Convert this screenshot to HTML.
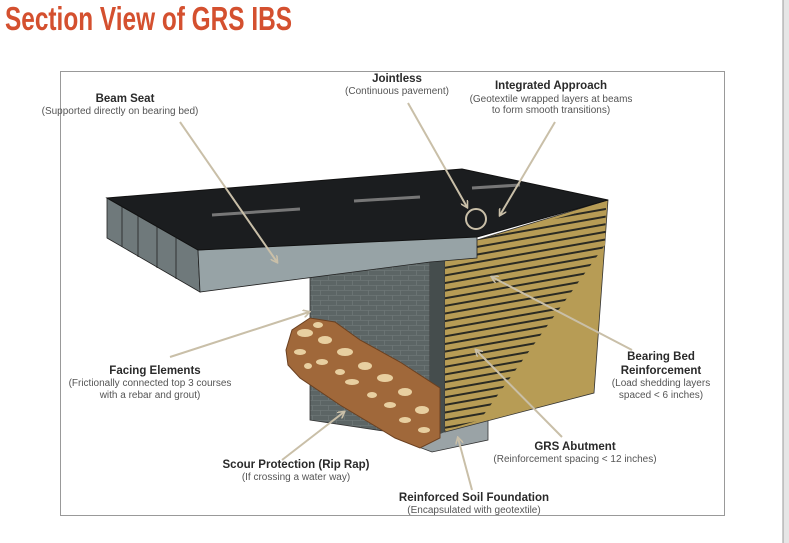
<!DOCTYPE html>
<html><head><meta charset="utf-8"><style>
html,body{margin:0;padding:0;background:#fff;width:789px;height:543px;overflow:hidden}
svg{display:block}
.b{font:bold 11.5px "Liberation Sans",sans-serif;fill:#2a2a2a}
.s{font:10px "Liberation Sans",sans-serif;fill:#555}
</style></head><body>
<svg width="789" height="543" viewBox="0 0 789 543">
<defs>
<pattern id="st" width="40" height="7.5" patternUnits="userSpaceOnUse" patternTransform="rotate(-10)">
<rect width="40" height="7.5" fill="#b79c55"/><rect y="2.5" width="40" height="2" fill="#2a2a22"/>
</pattern>
<pattern id="br" width="16" height="10" patternUnits="userSpaceOnUse">
<rect width="16" height="10" fill="#5c6565"/><path d="M0,0.5H16M0,5.5H16M0.5,0V5M8.5,5V10" stroke="#6d7676" stroke-width="0.8"/>
</pattern>
<clipPath id="cp"><polygon points="445,258 477,240 606,205 605,245 480,420 445,430"/></clipPath>
<marker id="ar" markerWidth="8" markerHeight="8" refX="6" refY="4" orient="auto" markerUnits="userSpaceOnUse"><path d="M0,0 L7,4 L0,8" fill="none" stroke="#c9bfa8" stroke-width="1.6"/></marker>
</defs>
<text x="5" y="30" font-family="Liberation Sans,sans-serif" font-weight="bold" font-size="33" fill="#d4502f" textLength="287" lengthAdjust="spacingAndGlyphs">Section View of GRS IBS</text>
<rect x="783" y="0" width="6" height="543" fill="#e6e6e6"/><line x1="783" y1="0" x2="783" y2="543" stroke="#999"/>
<rect x="60.5" y="71.5" width="664" height="444" fill="#fff" stroke="#999"/>
<polygon points="400,428 488,420 488,440 432,452 400,440" fill="#9aa3a6" stroke="#333" stroke-width="0.8"/>
<polygon points="310,275 430,262 430,438 310,420" fill="url(#br)" stroke="#333" stroke-width="0.8"/>
<polygon points="430,262 445,260 445,432 430,438" fill="#454d4d"/>
<polygon points="445,258 477,240 608,200 594,393 445,432" fill="#b79c55" stroke="#333" stroke-width="0.8"/>
<rect x="440" y="200" width="170" height="235" fill="url(#st)" clip-path="url(#cp)"/>
<!-- rip rap -->
<polygon points="286,350 292,330 310,318 335,322 360,340 400,362 440,388 440,438 420,448 395,438 340,405 300,378 288,365" fill="#a0683a" stroke="#6b4020" stroke-width="1"/>
<g fill="#e8cfa0"><ellipse cx="305" cy="333" rx="8" ry="4"/><ellipse cx="325" cy="340" rx="7" ry="4"/><ellipse cx="300" cy="352" rx="6" ry="3"/><ellipse cx="345" cy="352" rx="8" ry="4"/><ellipse cx="365" cy="366" rx="7" ry="4"/><ellipse cx="322" cy="362" rx="6" ry="3"/><ellipse cx="385" cy="378" rx="8" ry="4"/><ellipse cx="352" cy="382" rx="7" ry="3"/><ellipse cx="405" cy="392" rx="7" ry="4"/><ellipse cx="422" cy="410" rx="7" ry="4"/><ellipse cx="390" cy="405" rx="6" ry="3"/><ellipse cx="424" cy="430" rx="6" ry="3"/><ellipse cx="318" cy="325" rx="5" ry="3"/><ellipse cx="340" cy="372" rx="5" ry="3"/><ellipse cx="372" cy="395" rx="5" ry="3"/><ellipse cx="405" cy="420" rx="6" ry="3"/><ellipse cx="308" cy="366" rx="4" ry="3"/></g>
<!-- deck -->
<polygon points="107,198 198,250 200,292 107,238" fill="#6f797b" stroke="#222" stroke-width="0.8"/>
<g stroke="#222" stroke-width="0.8"><line x1="122" y1="207" x2="122" y2="247"/><line x1="138" y1="216" x2="138" y2="257"/><line x1="157" y1="227" x2="157" y2="268"/><line x1="176" y1="238" x2="176" y2="279"/></g>
<polygon points="198,250 477,236 477,258 430,262 200,292" fill="#97a3a6" stroke="#222" stroke-width="0.8"/>
<polygon points="107,198 462,169 608,200 477,237 198,250" fill="#1b1d1f" stroke="#111"/>
<g stroke="#777" stroke-width="3"><line x1="212" y1="215" x2="300" y2="209"/><line x1="354" y1="201" x2="420" y2="197"/><line x1="472" y1="188" x2="520" y2="185"/></g>
<g stroke="#c9bfa8" stroke-width="2" fill="none" marker-end="url(#ar)">
<line x1="180" y1="122" x2="277" y2="262"/>
<line x1="408" y1="103" x2="467" y2="207"/>
<line x1="555" y1="122" x2="500" y2="215"/>
<line x1="632" y1="350" x2="492" y2="277"/>
<line x1="170" y1="357" x2="309" y2="312"/>
<line x1="562" y1="437" x2="476" y2="350"/>
<line x1="282" y1="460" x2="344" y2="412"/>
<line x1="472" y1="490" x2="458" y2="438"/>
</g>
<circle cx="476" cy="219" r="10" fill="none" stroke="#c9bfa8" stroke-width="2"/>
<g text-anchor="middle">
<text class="b" x="125" y="102">Beam Seat</text><text class="s" x="120" y="114">(Supported directly on bearing bed)</text>
<text class="b" x="397" y="82">Jointless</text><text class="s" x="397" y="94">(Continuous pavement)</text>
<text class="b" x="551" y="89">Integrated Approach</text><text class="s" x="551" y="102">(Geotextile wrapped layers at beams</text><text class="s" x="551" y="113">to form smooth transitions)</text>
<text class="b" x="661" y="360">Bearing Bed</text><text class="b" x="661" y="374">Reinforcement</text><text class="s" x="661" y="386">(Load shedding layers</text><text class="s" x="661" y="398">spaced &lt; 6 inches)</text>
<text class="b" x="155" y="374">Facing Elements</text><text class="s" x="150" y="386">(Frictionally connected top 3 courses</text><text class="s" x="150" y="398">with a rebar and grout)</text>
<text class="b" x="575" y="450">GRS Abutment</text><text class="s" x="575" y="462">(Reinforcement spacing &lt; 12 inches)</text>
<text class="b" x="296" y="468">Scour Protection (Rip Rap)</text><text class="s" x="296" y="480">(If crossing a water way)</text>
<text class="b" x="474" y="501">Reinforced Soil Foundation</text><text class="s" x="474" y="513">(Encapsulated with geotextile)</text>
</g>
</svg>
</body></html>
